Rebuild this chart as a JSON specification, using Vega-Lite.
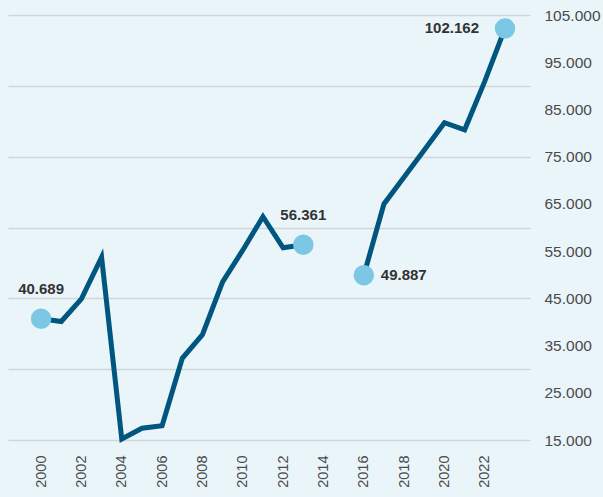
{
  "$schema": "https://vega.github.io/schema/vega-lite/v6.json",
  "autosize": {"type": "none"},
  "padding": {"left": 8, "top": 15, "right": 73, "bottom": 57},
  "width": 522,
  "height": 425,
  "background": "#eaf5fa",
  "config": {
    "view": {"stroke": null},
    "font": "Liberation Sans",
    "locale": {"number": {"decimal": ",", "thousands": ".", "grouping": [3], "currency": ["", " €"]}}
  },
  "data": {
    "values": [
      {"year": 2000, "value": 40689, "segment": "a"},
      {"year": 2001, "value": 40100, "segment": "a"},
      {"year": 2002, "value": 44900, "segment": "a"},
      {"year": 2003, "value": 53700, "segment": "a"},
      {"year": 2004, "value": 15200, "segment": "a"},
      {"year": 2005, "value": 17500, "segment": "a"},
      {"year": 2006, "value": 18000, "segment": "a"},
      {"year": 2007, "value": 32300, "segment": "a"},
      {"year": 2008, "value": 37300, "segment": "a"},
      {"year": 2009, "value": 48500, "segment": "a"},
      {"year": 2010, "value": 55200, "segment": "a"},
      {"year": 2011, "value": 62300, "segment": "a"},
      {"year": 2012, "value": 55700, "segment": "a"},
      {"year": 2013, "value": 56361, "segment": "a"},
      {"year": 2016, "value": 49887, "segment": "b"},
      {"year": 2017, "value": 65000, "segment": "b"},
      {"year": 2018, "value": 70700, "segment": "b"},
      {"year": 2019, "value": 76400, "segment": "b"},
      {"year": 2020, "value": 82200, "segment": "b"},
      {"year": 2021, "value": 80700, "segment": "b"},
      {"year": 2022, "value": 91000, "segment": "b"},
      {"year": 2023, "value": 102162, "segment": "b"}
    ]
  },
  "encoding": {
    "x": {
      "field": "year", "type": "quantitative",
      "scale": {"domain": [1998.36, 2024.24], "nice": false, "zero": false},
      "axis": {
        "orient": "bottom", "title": null, "grid": false, "ticks": false, "domain": false,
        "values": [2000, 2002, 2004, 2006, 2008, 2010, 2012, 2014, 2016, 2018, 2020, 2022],
        "format": "d", "labelAngle": -90, "labelPadding": 15, "labelFontSize": 14.5,
        "labelColor": "#4a4a4a", "labelFont": "Liberation Sans"
      }
    },
    "y": {
      "field": "value", "type": "quantitative",
      "scale": {"domain": [15000, 105000], "nice": false, "zero": false},
      "axis": null
    }
  },
  "layer": [
    {
      "transform": [{"filter": {"field": "year", "oneOf": [2000, 2013, 2016, 2023]}}],
      "mark": {"type": "circle", "color": "#7cc8e4", "size": 0, "opacity": 0},
      "encoding": {
        "y": {
          "field": "value", "type": "quantitative",
          "axis": {
            "orient": "left", "title": null, "grid": true, "ticks": false, "domain": false,
            "labels": false, "values": [15000, 30000, 45000, 60000, 75000, 90000, 105000],
            "gridColor": "#d2d5d7", "gridWidth": 1.5, "gridOpacity": 1
          }
        }
      }
    },
    {
      "mark": {"type": "line", "color": "#00567f", "strokeWidth": 5, "strokeJoin": "miter"},
      "encoding": {
        "detail": {"field": "segment"},
        "y": {
          "field": "value", "type": "quantitative",
          "axis": {
            "orient": "right", "title": null, "grid": false, "ticks": false, "domain": false,
            "values": [15000, 25000, 35000, 45000, 55000, 65000, 75000, 85000, 95000, 105000],
            "format": ",d", "labelPadding": 14, "labelFontSize": 15.5, "labelColor": "#4a4a4a",
            "labelFont": "Liberation Sans"
          }
        }
      }
    },
    {
      "transform": [{"filter": {"field": "year", "oneOf": [2000, 2013, 2016, 2023]}}],
      "mark": {"type": "circle", "color": "#7cc8e4", "size": 420, "opacity": 1}
    },
    {
      "transform": [{"filter": {"field": "year", "oneOf": [2000, 2013]}}],
      "mark": {"type": "text", "align": "center", "baseline": "middle", "dy": -30, "fontSize": 15, "fontWeight": "bold", "color": "#333333"},
      "encoding": {"text": {"field": "value", "type": "quantitative", "format": ",d"}}
    },
    {
      "transform": [{"filter": {"field": "year", "equal": 2016}}],
      "mark": {"type": "text", "align": "left", "baseline": "middle", "dx": 17, "fontSize": 15, "fontWeight": "bold", "color": "#333333"},
      "encoding": {"text": {"field": "value", "type": "quantitative", "format": ",d"}}
    },
    {
      "transform": [{"filter": {"field": "year", "equal": 2023}}],
      "mark": {"type": "text", "align": "right", "baseline": "middle", "dx": -26, "fontSize": 15, "fontWeight": "bold", "color": "#333333"},
      "encoding": {"text": {"field": "value", "type": "quantitative", "format": ",d"}}
    }
  ]
}
